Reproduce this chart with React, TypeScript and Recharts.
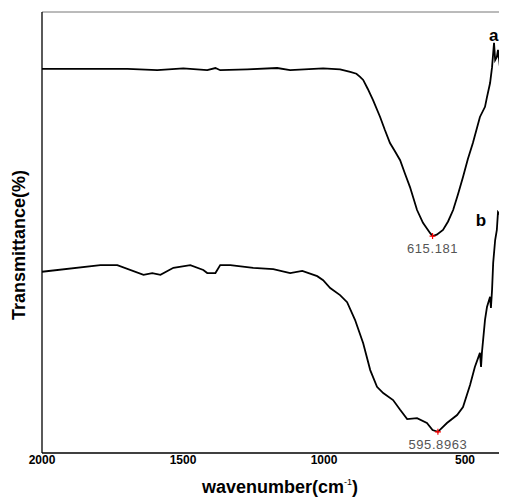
import React from "react";
import { LineChart, Line, XAxis, YAxis, ReferenceLine, ReferenceDot, Label } from "recharts";

// Curve a (wavenumber, transmittance %)
const waveA = [2000, 1853, 1697, 1591, 1499, 1414, 1385, 1368, 1272, 1166, 1120, 1003, 943, 907, 885, 872, 861, 845, 826, 801, 785, 766, 750, 730, 712, 695, 670, 649, 635, 624, 615, 600, 578, 560, 542, 525, 507, 490, 472, 447, 429, 422, 411, 404, 397, 393, 387, 383, 376, 369, 365, 362];
const transA = [87.1, 87.1, 87.1, 86.8, 87.2, 86.8, 87.3, 86.8, 87.0, 87.3, 86.8, 87.2, 87.0, 86.4, 86.0, 85.3, 84.6, 82.6, 80.0, 76.2, 73.4, 70.3, 68.6, 66.4, 63.2, 60.3, 55.1, 52.2, 50.9, 49.9, 49.2, 49.5, 50.6, 52.5, 55.1, 58.6, 62.6, 66.6, 70.3, 76.2, 78.5, 80.7, 83.9, 87.5, 93.0, 89.1, 89.8, 91.4, 87.5, 89.1, 83.4, 52.8];

// Curve b
const waveB = [2000, 1793, 1733, 1640, 1609, 1580, 1534, 1474, 1428, 1414, 1385, 1368, 1332, 1251, 1180, 1120, 1077, 1024, 1003, 978, 943, 918, 890, 861, 836, 812, 790, 755, 730, 705, 670, 635, 615, 596, 564, 528, 507, 482, 465, 447, 443, 440, 429, 422, 411, 408, 404, 400, 393, 387, 383, 376, 365, 362, 355];
const transB = [41.1, 42.6, 42.6, 40.4, 40.8, 40.4, 42.0, 42.6, 41.5, 40.8, 40.8, 42.6, 42.6, 42.0, 41.7, 40.8, 41.3, 40.1, 39.2, 37.4, 35.8, 34.2, 30.2, 24.9, 18.8, 15.0, 13.6, 12.0, 9.8, 7.7, 7.9, 6.8, 5.2, 4.8, 6.8, 8.6, 10.4, 15.4, 19.5, 22.7, 19.5, 22.7, 30.2, 33.1, 35.4, 32.9, 37.0, 43.1, 48.3, 50.6, 54.6, 54.0, 40.4, 54.6, 52.8];

const xTicks = [2000, 1500, 1000, 500];
const xDomain = [351, 2000];
const yDomain = [0, 100];

// Peak annotations
const peakA = { wn: 615, t: 49.2, label: "615.181" };
const peakB = { wn: 596, t: 4.8, label: "595.8963" };

// Curve labels
const curveLabels = [
  { wn: 398, t: 93.5, text: "a" },
  { wn: 443, t: 51.5, text: "b" },
];

const dataA = waveA.map((wn, i) => ({ wn, t: transA[i] }));
const dataB = waveB.map((wn, i) => ({ wn, t: transB[i] }));

const FONT = "'Liberation Sans', Arial, sans-serif";

const Tick = (p: any) => (
  <text x={p.x} y={p.y + 10.5} textAnchor="middle" fontFamily={FONT} fontWeight="bold" fontSize={12} fill="#000">
    {p.payload.value}
  </text>
);

const peakShape = (label: string) => (p: any) => {
  const { cx, cy } = p;
  return (
    <g>
      <path d={`M${cx - 3},${cy}H${cx + 3}M${cx},${cy - 3}V${cy + 3}`} stroke="#ff0000" strokeWidth={1.2} />
      <text x={cx} y={cy + 17} textAnchor="middle" fontFamily={FONT} fontSize={13} letterSpacing={0.6} fill="#555">
        {label}
      </text>
    </g>
  );
};

const textShape = (txt: string) => (p: any) => (
  <text x={p.cx} y={p.cy} textAnchor="middle" fontFamily={FONT} fontWeight="bold" fontSize={17} fill="#000">
    {txt}
  </text>
);

const Titles = () => (
  <g>
    <text x={272} y={485} textAnchor="middle" fontFamily={FONT} fontWeight="bold" fontSize={18} fill="#000">
      wavenumber(cm
      <tspan dy={-8} fontSize={9} fontWeight="normal">-1</tspan>
      <tspan dy={8}>)</tspan>
    </text>
    <text
      x={17}
      y={237}
      transform="rotate(-90, 17, 237)"
      textAnchor="middle"
      fontFamily={FONT}
      fontWeight="bold"
      fontSize={18}
      fill="#000"
    >
      Transmittance(%)
    </text>
  </g>
);

export default function App() {
  return (
    <LineChart
      width={499}
      height={490}
      margin={{ top: 4, right: 0, left: 34, bottom: 25 }}
      style={{ fontFamily: FONT }}
    >
      <XAxis
        type="number"
        dataKey="wn"
        domain={xDomain}
        reversed
        allowDataOverflow
        ticks={xTicks}
        interval={0}
        tickLine={false}
        tickSize={0}
        tickMargin={0}
        tick={<Tick />}
        height={20}
        axisLine={{ stroke: "#000", strokeWidth: 1.3 }}
      >
        <Label content={() => <Titles />} />
      </XAxis>
      <YAxis type="number" domain={yDomain} hide />
      <ReferenceLine y={100} stroke="#777" strokeWidth={1} />
      <ReferenceLine x={2000} stroke="#000" strokeWidth={1.3} />
      <Line data={dataA} dataKey="t" type="linear" stroke="#000" strokeWidth={1.8} dot={false} isAnimationActive={false} />
      <Line data={dataB} dataKey="t" type="linear" stroke="#000" strokeWidth={1.8} dot={false} isAnimationActive={false} />
      <ReferenceDot x={peakA.wn} y={peakA.t} r={0} shape={peakShape(peakA.label)} />
      <ReferenceDot x={peakB.wn} y={peakB.t} r={0} shape={peakShape(peakB.label)} />
      {curveLabels.map((c) => (
        <ReferenceDot key={c.text} x={c.wn} y={c.t} r={0} shape={textShape(c.text)} />
      ))}
    </LineChart>
  );
}
